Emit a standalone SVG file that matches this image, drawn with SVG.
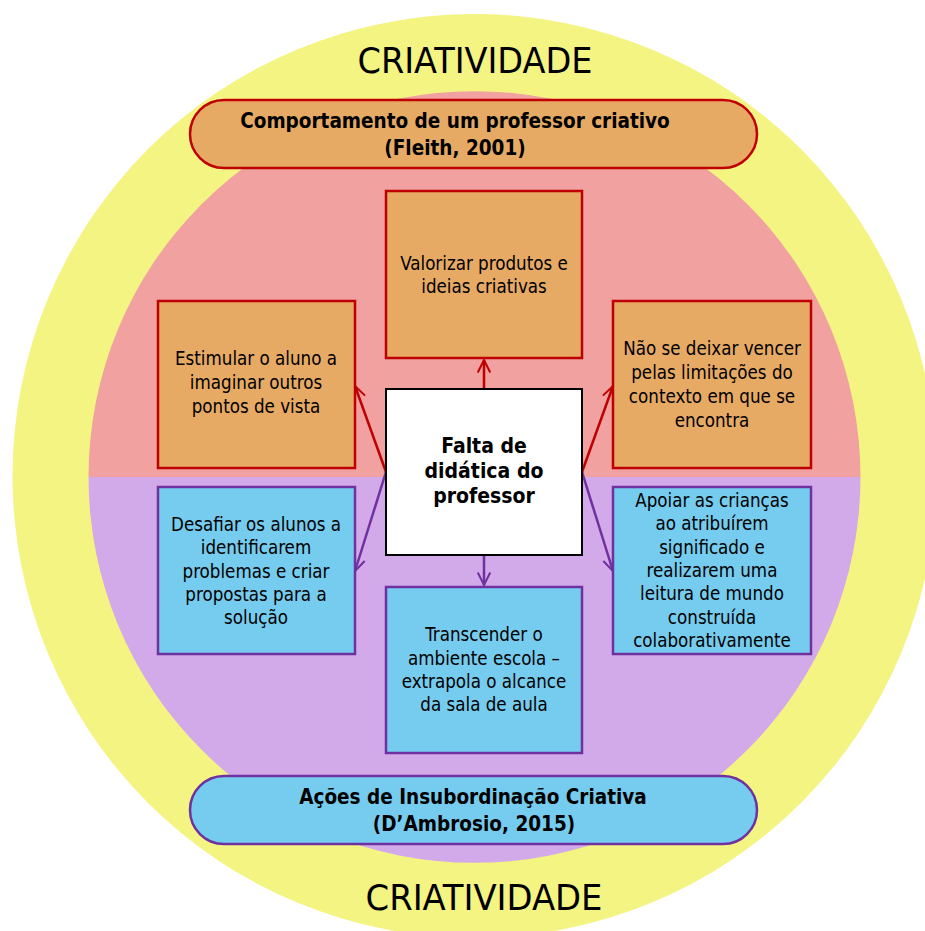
<svg xmlns="http://www.w3.org/2000/svg" width="925" height="931" viewBox="0 0 925 931">
<style>
.t{font-family:"DejaVu Sans Condensed","DejaVu Sans","Liberation Sans",sans-serif;font-stretch:condensed;font-size:18.6px;fill:#000;text-anchor:middle}
.b{font-family:"DejaVu Sans Condensed","DejaVu Sans","Liberation Sans",sans-serif;font-stretch:condensed;font-weight:bold;font-size:20.5px;fill:#000;text-anchor:middle}
.big{font-family:"Liberation Sans Narrow","DejaVu Sans Condensed","Liberation Sans",sans-serif;font-stretch:condensed;font-size:35px;fill:#000;text-anchor:middle}
.ro{fill:#E7AA64;stroke:#C00000;stroke-width:2.5}
.pb{fill:#76CCEF;stroke:#7030A0;stroke-width:2.5}
.cr{stroke:#C00000;stroke-width:2.5;fill:none}
.cp{stroke:#7030A0;stroke-width:2.5;fill:none}
</style>
<defs>
<marker id="ar" viewBox="0 0 12 12" refX="11" refY="6" markerWidth="6" markerHeight="6" orient="auto" markerUnits="strokeWidth">
<path d="M1,1 L11,6 L1,11" fill="none" stroke="#C00000" stroke-width="1.6"/>
</marker>
<marker id="ap" viewBox="0 0 12 12" refX="11" refY="6" markerWidth="6" markerHeight="6" orient="auto" markerUnits="strokeWidth">
<path d="M1,1 L11,6 L1,11" fill="none" stroke="#7030A0" stroke-width="1.6"/>
</marker>
</defs>
<g id="background">
<circle cx="474.5" cy="476" r="462" fill="#F4F483"/>
<path d="M88.5,477 A386,386 0 0 1 860.5,477 Z" fill="#F0A1A0"/>
<path d="M88.5,477 A386,386 0 0 0 860.5,477 Z" fill="#D2AAEA"/>
<text class="big" x="475" y="73" textLength="235" lengthAdjust="spacingAndGlyphs">CRIATIVIDADE</text>
<text class="big" x="484" y="910" textLength="237" lengthAdjust="spacingAndGlyphs">CRIATIVIDADE</text>
</g>
<g id="connectors">
<line class="cr" x1="484" y1="389" x2="484" y2="360" marker-end="url(#ar)"/>
<line class="cr" x1="386" y1="472" x2="355" y2="386" marker-end="url(#ar)"/>
<line class="cr" x1="582" y1="472" x2="613" y2="386" marker-end="url(#ar)"/>
<line class="cp" x1="386" y1="472" x2="355" y2="571" marker-end="url(#ap)"/>
<line class="cp" x1="484" y1="555" x2="484" y2="585" marker-end="url(#ap)"/>
<line class="cp" x1="582" y1="472" x2="613" y2="571" marker-end="url(#ap)"/>
</g>
<g id="banner-top">
<rect class="ro" x="190" y="100" width="567" height="68" rx="34"/>
<text class="b" x="455" y="128">Comportamento de um professor criativo</text>
<text class="b" x="455" y="155">(Fleith, 2001)</text>
</g>
<g id="banner-bottom">
<rect class="pb" x="190" y="776" width="567" height="68" rx="34"/>
<text class="b" x="473" y="804">Ações de Insubordinação Criativa</text>
<text class="b" x="474" y="831">(D’Ambrosio, 2015)</text>
</g>
<g id="center">
<rect x="386" y="389" width="196" height="166" fill="#fff" stroke="#000" stroke-width="2"/>
<text class="b" x="484" y="453" style="font-size:21px">Falta de</text>
<text class="b" x="484" y="478" style="font-size:21px">didática do</text>
<text class="b" x="484" y="503" style="font-size:21px">professor</text>
</g>
<g id="box-top">
<rect class="ro" x="386" y="191" width="196" height="167"/>
<text class="t" x="484" y="270">Valorizar produtos e</text>
<text class="t" x="484" y="293">ideias criativas</text>
</g>
<g id="box-left-top">
<rect class="ro" x="158" y="301" width="197" height="167"/>
<text class="t" x="256" y="365">Estimular o aluno a</text>
<text class="t" x="256" y="389">imaginar outros</text>
<text class="t" x="256" y="413">pontos de vista</text>
</g>
<g id="box-right-top">
<rect class="ro" x="613" y="301" width="198" height="167"/>
<text class="t" x="712" y="355">Não se deixar vencer</text>
<text class="t" x="712" y="379">pelas limitações do</text>
<text class="t" x="712" y="403">contexto em que se</text>
<text class="t" x="712" y="427">encontra</text>
</g>
<g id="box-left-bottom">
<rect class="pb" x="158" y="487" width="197" height="167"/>
<text class="t" x="256" y="531">Desafiar os alunos a</text>
<text class="t" x="256" y="554">identificarem</text>
<text class="t" x="256" y="578">problemas e criar</text>
<text class="t" x="256" y="601">propostas para a</text>
<text class="t" x="256" y="624">solução</text>
</g>
<g id="box-bottom">
<rect class="pb" x="386" y="587" width="196" height="166"/>
<text class="t" x="484" y="641">Transcender o</text>
<text class="t" x="484" y="665">ambiente escola –</text>
<text class="t" x="484" y="688">extrapola o alcance</text>
<text class="t" x="484" y="711">da sala de aula</text>
</g>
<g id="box-right-bottom">
<rect class="pb" x="613" y="487" width="198" height="167"/>
<text class="t" x="712" y="507">Apoiar as crianças</text>
<text class="t" x="712" y="530">ao atribuírem</text>
<text class="t" x="712" y="554">significado e</text>
<text class="t" x="712" y="577">realizarem uma</text>
<text class="t" x="712" y="600">leitura de mundo</text>
<text class="t" x="712" y="624">construída</text>
<text class="t" x="712" y="647">colaborativamente</text>
</g>
</svg>
